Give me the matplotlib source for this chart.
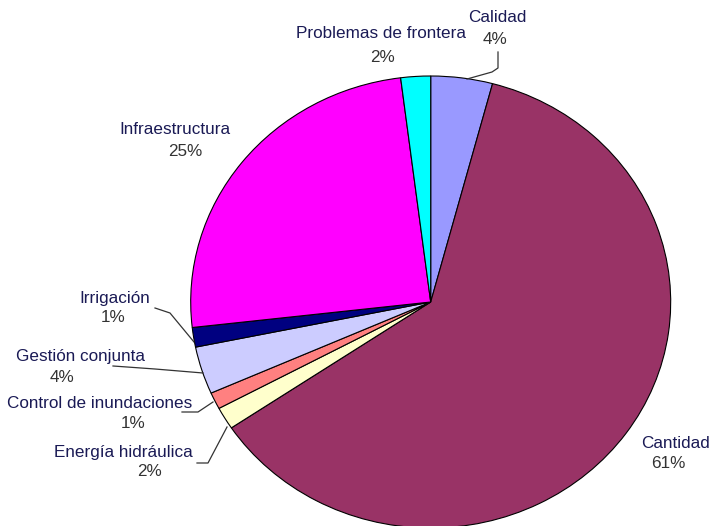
import matplotlib
matplotlib.use("Agg")
import matplotlib.pyplot as plt
from matplotlib.lines import Line2D

categories = ["Calidad", "Cantidad", "Energía hidráulica", "Control de inundaciones",
              "Gestión conjunta", "Irrigación", "Infraestructura", "Problemas de frontera"]
values = [4.15, 61.45, 1.6, 1.2, 3.4, 1.4, 24.8, 2.0]
pct_labels = ["4%", "61%", "2%", "1%", "4%", "1%", "25%", "2%"]
colors = ["#9999FF", "#993366", "#FFFFCC", "#FF8080", "#CCCCFF", "#000080", "#FF00FF", "#00FFFF"]

W, H = 713, 526
fig = plt.figure(figsize=(W / 100, H / 100), dpi=100)
ax = fig.add_axes([0, 0, 1, 1])

rx, ry = 240.0, 226.0
cx, cy = 430.7, 302.0
sy = rx / ry  # y data units per pixel

ax.pie(values, colors=colors, startangle=90, counterclock=False,
       radius=rx, center=(cx, (H - cy) * sy), frame=True,
       wedgeprops=dict(edgecolor="black", linewidth=0.8))
ax.set_aspect("auto")
ax.set_position([0, 0, 1, 1])
ax.set_xlim(0, W)
ax.set_ylim(0, H * sy)
ax.axis("off")

def fp(x, y):
    return (x / W, 1 - y / H)

name_col = "#1a1a55"
pct_col = "#333333"
fs = 12.3

# label layout: (name x, name y, pct x, pct y)
layout = {
    "Calidad": (497, 18, 495, 40),
    "Cantidad": (676, 443, 668, 464),
    "Energía hidráulica": (123, 452, 150, 471),
    "Control de inundaciones": (100, 403, 133, 423),
    "Gestión conjunta": (80, 356, 62, 377),
    "Irrigación": (115, 298, 113, 318),
    "Infraestructura": (175, 130, 185, 151),
    "Problemas de frontera": (381, 34, 383, 57),
}
for cat, pl in zip(categories, pct_labels):
    nx, ny, px_, py_ = layout[cat]
    fig.text(*fp(nx, ny), cat, ha="center", va="center", fontsize=fs,
             color=name_col, family="Liberation Sans")
    fig.text(*fp(px_, py_), pl, ha="center", va="center", fontsize=fs,
             color=pct_col, family="Liberation Sans")

leaders = [
    [(498, 52), (498, 68), (492, 72), (467, 79)],
    [(155, 308), (170, 313), (194, 342)],
    [(113, 366), (155, 369), (203, 373)],
    [(182, 412), (198, 412), (213, 402)],
    [(197, 463), (208, 463), (227, 427)],
]
for pts in leaders:
    xs = [p[0] / W for p in pts]
    ys = [1 - p[1] / H for p in pts]
    fig.add_artist(Line2D(xs, ys, color="#333333", linewidth=0.9,
                          transform=fig.transFigure))

fig.savefig("out.png", dpi=100, facecolor="white")
